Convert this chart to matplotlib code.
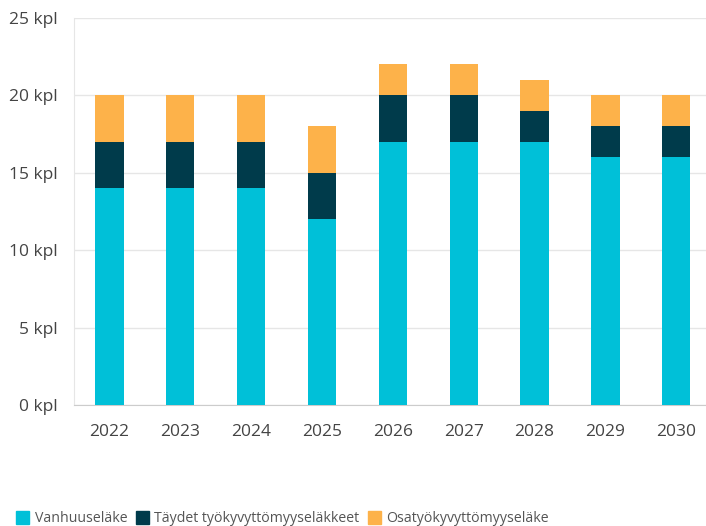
import matplotlib
matplotlib.use("Agg")
from matplotlib import pyplot as plt
from matplotlib.patches import Patch

years = ["2022", "2023", "2024", "2025", "2026", "2027", "2028", "2029", "2030"]
vanhuus = [14, 14, 14, 12, 17, 17, 17, 16, 16]
taydet = [3, 3, 3, 3, 3, 3, 2, 2, 2]
osa = [3, 3, 3, 3, 2, 2, 2, 2, 2]
series_names = ["Vanhuuseläke", "Täydet työkyvyttömyyseläkkeet", "Osatyökyvyttömyyseläke"]
colors = ["#00C0D8", "#003B4B", "#FDB24A"]
yticks = [0, 5, 10, 15, 20, 25]

plt.rcParams["font.family"] = ["Open Sans", "DejaVu Sans"]

fig = plt.figure(figsize=(7.06, 5.26), dpi=100)
ax = fig.add_axes([74 / 706, 121 / 526, 632 / 706, 387 / 526])

x = list(range(len(years)))
bottom2 = [a + b for a, b in zip(vanhuus, taydet)]
ax.bar(x, vanhuus, width=0.4, color=colors[0], zorder=3)
ax.bar(x, taydet, width=0.4, bottom=vanhuus, color=colors[1], zorder=3)
ax.bar(x, osa, width=0.4, bottom=bottom2, color=colors[2], zorder=3)

ax.set_xlim(-0.5, 8.42)
ax.set_ylim(0, 25)
ax.set_yticks(yticks)
ax.set_yticklabels([f"{v} kpl" for v in yticks])
ax.set_xticks(x)
ax.set_xticklabels(years)
ax.yaxis.grid(True, color="#E6E6E6", linewidth=1, zorder=0)
for s in ["top", "right"]:
    ax.spines[s].set_visible(False)
ax.spines["left"].set_color("#E6E6E6")
ax.spines["bottom"].set_color("#CCCCCC")
ax.tick_params(axis="both", length=0, labelsize=12.5, colors="#444444")
ax.tick_params(axis="x", pad=14)
ax.tick_params(axis="y", pad=12)

handles = [Patch(color=c) for c in colors]
fig.legend(handles, series_names, loc="lower left", bbox_to_anchor=(0.005, -0.025),
           ncol=3, frameon=False, fontsize=10.2, handlelength=0.9, handleheight=1.1,
           handletextpad=0.4, columnspacing=0.6, labelcolor="#555555")

fig.savefig("out.png", dpi=100)
